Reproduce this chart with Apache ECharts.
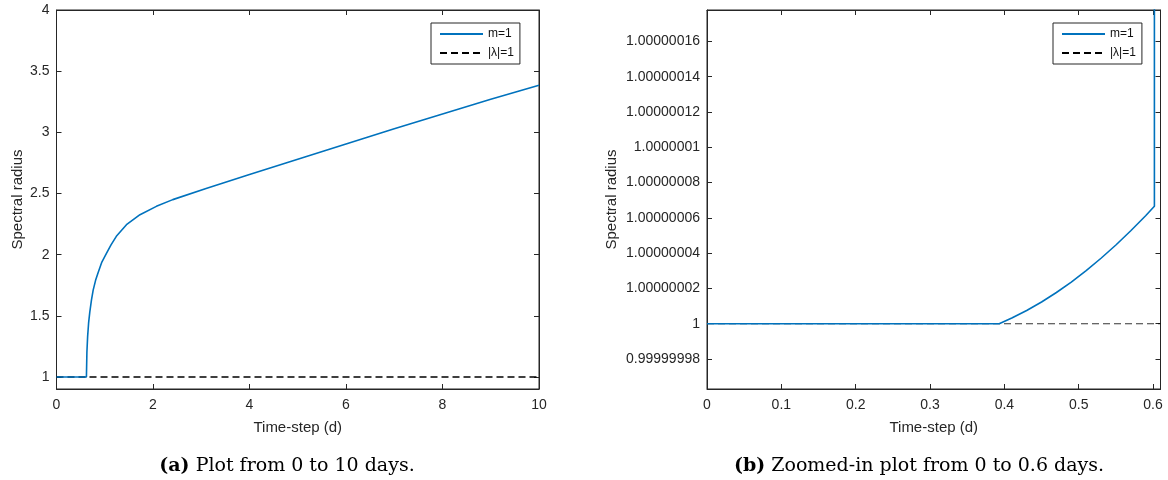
<!DOCTYPE html>
<html><head><meta charset="utf-8">
<script src="https://cdn.jsdelivr.net/npm/echarts@6/dist/echarts.min.js"></script>
<style>html,body{margin:0;padding:0;background:#fff}#c{width:1168px;height:480px}</style>
</head><body><div id="c"></div>
<script>
// ---------- Panel (a): 0 to 10 days ----------
const fullT      = [0, 0.62, 0.63, 0.645, 0.665, 0.69, 0.725, 0.76, 0.81, 0.86, 0.94, 1.035, 1.13, 1.24, 1.45, 1.73, 2.07, 2.41, 3.1, 4, 5, 6, 7, 8, 9, 10];
const fullRadius = [1, 1, 1.2, 1.33, 1.44, 1.53, 1.63, 1.71, 1.79, 1.85, 1.94, 2.01, 2.08, 2.15, 2.245, 2.327, 2.395, 2.45, 2.54, 2.655, 2.78, 2.905, 3.03, 3.15, 3.27, 3.385];
const fullXRange = [0, 10];
const fullYRange = [0.902, 4];
const fullXTicks = [0, 2, 4, 6, 8, 10];
const fullYTicks = [1, 1.5, 2, 2.5, 3, 3.5, 4];

// ---------- Panel (b): zoom 0 to 0.6 days ----------
const zoomT      = [0, 0.393, 0.41, 0.43, 0.45, 0.47, 0.49, 0.51, 0.53, 0.55, 0.57, 0.59, 0.6018, 0.6025];
const zoomRadius = [1, 1, 1.0000000032, 1.0000000075, 1.0000000123, 1.0000000177, 1.0000000236, 1.0000000301, 1.0000000371, 1.0000000446, 1.0000000527, 1.0000000612, 1.0000000666, 1.2];
const zoomXRange = [0, 0.61];
const zoomYRange = [0.999999963, 1.0000001778];
const zoomXTicks = [0, 0.1, 0.2, 0.3, 0.4, 0.5, 0.6];
const zoomYTicks = [0.99999998, 1, 1.00000002, 1.00000004, 1.00000006, 1.00000008, 1.0000001, 1.00000012, 1.00000014, 1.00000016];

// ---------- shared ----------
const unitLevel = 1;               // |lambda| = 1 reference line
const seriesNames = ['m=1', '|λ|=1'];
const xAxisName = 'Time-step (d)';
const yAxisName = 'Spectral radius';
const captionA = ['(a)', ' Plot from 0 to 10 days.'];
const captionB = ['(b)', ' Zoomed-in plot from 0 to 0.6 days.'];

// panel (b) is drawn in units of 1e-8 above 1 so the axis keeps precision
const SCALE = 1e8;
const off = v => (v - 1) * SCALE;
const fmtZoom = v => String(+(1 + v / SCALE).toFixed(9));

const AX = '#262626';
const FONT = 'Liberation Sans, Arial, Helvetica, sans-serif';

function mkX(gi, range, ticks, pos, showLabel) {
  return {
    type: 'value', gridIndex: gi, position: pos, min: range[0], max: range[1],
    name: showLabel ? xAxisName : '', nameLocation: 'middle', nameGap: 31,
    nameTextStyle: {color: AX, fontSize: 15, fontFamily: FONT},
    splitLine: {show: false},
    axisLine: {show: true, onZero: false, lineStyle: {color: AX, width: 1}},
    axisTick: {show: true, inside: true, length: 5, lineStyle: {color: AX}, customValues: ticks},
    axisLabel: {show: showLabel, customValues: ticks, color: AX, fontSize: 14, fontFamily: FONT, margin: 9,
      formatter: v => String(v)}
  };
}
function mkY(gi, range, ticks, pos, showLabel, fmt, gap) {
  return {
    type: 'value', gridIndex: gi, position: pos, min: range[0], max: range[1],
    name: showLabel ? yAxisName : '', nameLocation: 'middle', nameGap: gap || 31, nameRotate: 90,
    nameTextStyle: {color: AX, fontSize: 15, fontFamily: FONT},
    splitLine: {show: false},
    axisLine: {show: true, onZero: false, lineStyle: {color: AX, width: 1}},
    axisTick: {show: true, inside: true, length: 5, lineStyle: {color: AX}, customValues: ticks},
    axisLabel: {show: showLabel, customValues: ticks, color: AX, fontSize: 14, fontFamily: FONT, margin: 7,
      formatter: fmt || (v => String(v))}
  };
}

const zYR = zoomYRange.map(off);
const zYT = zoomYTicks.map(off);

function mkLegend(left) {
  return {left: left, top: 23, orient: 'vertical', align: 'left', data: seriesNames,
    backgroundColor: '#fff', borderColor: AX, borderWidth: 1, padding: [5, 6, 5, 8],
    itemWidth: 43, itemHeight: 12, itemGap: 7, selectedMode: false,
    itemStyle: {opacity: 0},
    textStyle: {color: '#111', fontSize: 12, fontFamily: FONT}};
}
const capRich = {b: {fontFamily: 'DejaVu Serif', fontWeight: 'bold', fontSize: 19, fill: '#000'},
                 n: {fontFamily: 'DejaVu Serif', fontSize: 19, fill: '#000'}};

const option = {
  animation: false,
  backgroundColor: '#fff',
  grid: [
    {left: 56.5, top: 10, width: 482.5, height: 379, show: true, borderColor: AX, borderWidth: 1},
    {left: 707, top: 10, width: 453.5, height: 379, show: true, borderColor: AX, borderWidth: 1}
  ],
  xAxis: [
    mkX(0, fullXRange, fullXTicks, 'bottom', true),
    mkX(0, fullXRange, fullXTicks, 'top', false),
    mkX(1, zoomXRange, zoomXTicks, 'bottom', true),
    mkX(1, zoomXRange, zoomXTicks, 'top', false)
  ],
  yAxis: [
    mkY(0, fullYRange, fullYTicks, 'left', true, null, 31),
    mkY(0, fullYRange, fullYTicks, 'right', false),
    mkY(1, zYR, zYT, 'left', true, fmtZoom, 88),
    mkY(1, zYR, zYT, 'right', false)
  ],
  legend: [mkLegend(431), mkLegend(1053)],
  series: [
    {name: seriesNames[0], type: 'line', xAxisIndex: 0, yAxisIndex: 0, symbol: 'none', z: 3,
     lineStyle: {color: '#0072BD', width: 1.6}, itemStyle: {color: '#0072BD'},
     data: fullT.map((t, i) => [t, fullRadius[i]])},
    {name: seriesNames[1], type: 'line', xAxisIndex: 0, yAxisIndex: 0, symbol: 'none', z: 2,
     lineStyle: {color: '#000', width: 1.3, type: [7, 4]}, itemStyle: {color: '#000'},
     data: fullXRange.map(t => [t, unitLevel])},
    {name: seriesNames[0], type: 'line', xAxisIndex: 2, yAxisIndex: 2, symbol: 'none', z: 3, clip: true,
     lineStyle: {color: '#0072BD', width: 1.6}, itemStyle: {color: '#0072BD'},
     data: zoomT.map((t, i) => [t, off(zoomRadius[i])])},
    {name: seriesNames[1], type: 'line', xAxisIndex: 2, yAxisIndex: 2, symbol: 'none', z: 2,
     lineStyle: {color: '#000', width: 1.1, type: [7, 4], opacity: 0.8}, itemStyle: {color: '#000'},
     data: zoomXRange.map(t => [t, off(unitLevel)])}
  ],
  graphic: [
    {type: 'text', x: 287, y: 466, style: {
      text: '{b|' + captionA[0] + '}{n|' + captionA[1] + '}', align: 'center', verticalAlign: 'middle', rich: capRich}},
    {type: 'text', x: 919, y: 466, style: {
      text: '{b|' + captionB[0] + '}{n|' + captionB[1] + '}', align: 'center', verticalAlign: 'middle', rich: capRich}}
  ]
};
const chart = echarts.init(document.getElementById('c'), null, {renderer: 'canvas'});
chart.setOption(option);
</script></body></html>
